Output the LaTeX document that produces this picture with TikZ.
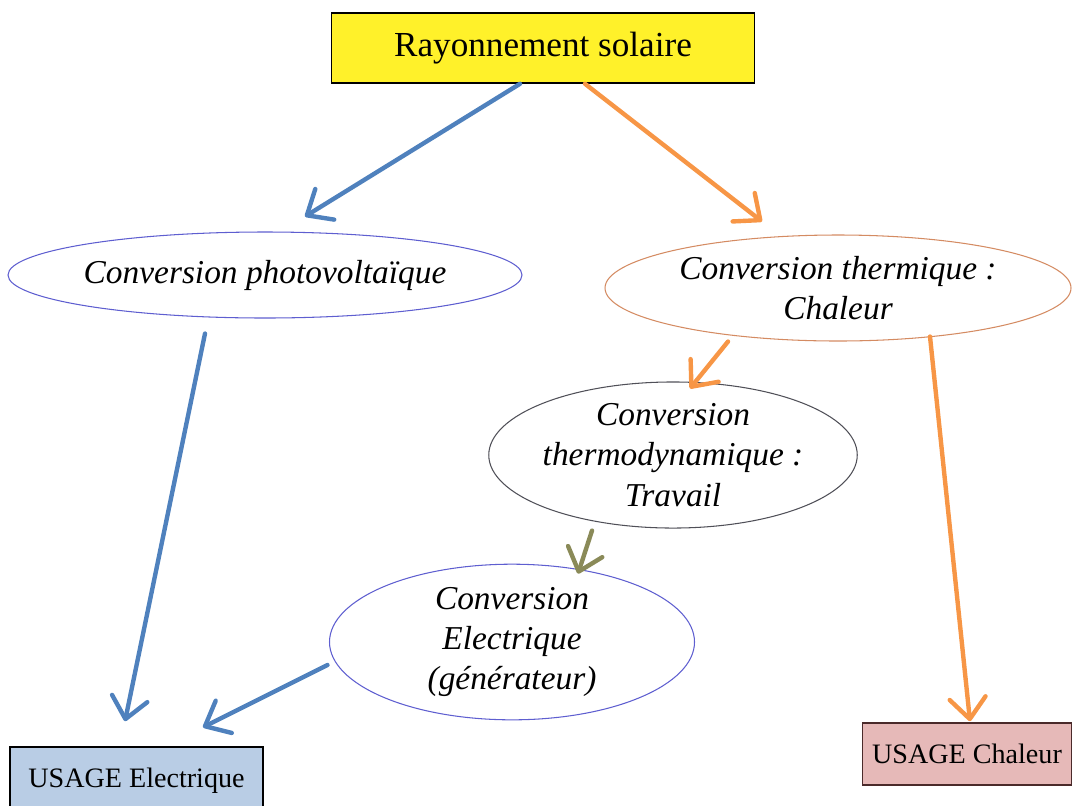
\documentclass[tikz,border=0pt]{standalone}
\usepackage{fontspec}
\setmainfont{Liberation Serif}
\usepackage{tikz}
\usetikzlibrary{arrows.meta,positioning,shapes.geometric}
\definecolor{sunYellow}{HTML}{FFF12A}
\definecolor{flowBlue}{HTML}{4F81BD}
\definecolor{flowOrange}{HTML}{F79646}
\definecolor{flowOlive}{HTML}{8A8A58}
\definecolor{rimBlue}{HTML}{5E5ED0}
\definecolor{rimOrange}{HTML}{D48B62}
\definecolor{rimGray}{HTML}{505058}
\definecolor{elecFill}{HTML}{B9CDE5}
\definecolor{heatFill}{HTML}{E6B9B8}
\definecolor{heatRim}{HTML}{4A2A2A}
\begin{document}
\begin{tikzpicture}[>={Straight Barb[length=0.42cm,width=0.72cm,round]},
  conv/.style={ellipse,draw,line width=0.6pt,inner sep=0pt,align=center,font=\fontsize{19}{23}\selectfont\itshape},
  usage/.style={draw,line width=0.9pt,inner sep=0pt,font=\fontsize{16}{19}\selectfont},
  flow/.style={->,line width=2.5pt,line cap=round}]
\useasboundingbox (0,0) rectangle (21.46,-16.1);
\begin{scope}
\clip (0,0) rectangle (21.46,-16.1);
% source
\node[draw,line width=0.9pt,fill=sunYellow,minimum width=8.46cm,minimum height=1.4cm,font=\fontsize{20}{24}\selectfont] (sun) at (10.86,-0.96) {Rayonnement solaire};
% conversions
\node[conv,draw=rimBlue,minimum width=10.28cm,minimum height=1.72cm] (pv) at (5.3,-5.5) {Conversion photovoltaïque};
\node[conv,draw=rimOrange,minimum width=9.32cm,minimum height=2.12cm] (therm) at (16.76,-5.76) {Conversion thermique :\\Chaleur};
\node[conv,draw=rimGray,minimum width=7.24cm,minimum height=2.8cm] (tdyn) at (13.46,-9.1) {Conversion\\thermodynamique :\\Travail};
\node[conv,draw=rimBlue,minimum width=7.3cm,minimum height=3.1cm] (gen) at (10.24,-12.84) {Conversion\\Electrique\\(générateur)};
% usages
\node[usage,fill=elecFill,minimum width=5.06cm,minimum height=1.36cm] (uElec) at (2.73,-15.62) {USAGE Electrique};
\node[usage,draw=heatRim,fill=heatFill,minimum width=4.18cm,minimum height=1.24cm] (uHeat) at (19.34,-15.08) {USAGE Chaleur};
% flows
\draw[flow,flowBlue] ([xshift=-0.46cm]sun.south) -- ([xshift=0.8cm,yshift=0.3cm]pv.north);
\draw[flow,flowOrange] ([xshift=0.84cm]sun.south) -- ([xshift=-1.52cm,yshift=0.26cm]therm.north);
\draw[flow,flowBlue] ([xshift=-1.2cm,yshift=-0.3cm]pv.south) -- ([xshift=-0.23cm,yshift=0.5cm]uElec.north);
\draw[flow,flowOrange] ([xshift=-2.2cm]therm.south) -- ([xshift=0.34cm,yshift=-0.14cm]tdyn.north);
\draw[flow,flowOrange] ([xshift=1.84cm,yshift=0.1cm]therm.south) -- ([xshift=0.06cm,yshift=0.02cm]uHeat.north);
\draw[flow,flowOlive] ([xshift=-1.62cm,yshift=-0.04cm]tdyn.south) -- ([xshift=1.32cm,yshift=-0.2cm]gen.north);
\draw[flow,flowBlue] ([xshift=-0.03cm,yshift=-0.46cm]gen.west) -- ([xshift=1.33cm,yshift=0.38cm]uElec.north);
\end{scope}
\end{tikzpicture}
\end{document}
